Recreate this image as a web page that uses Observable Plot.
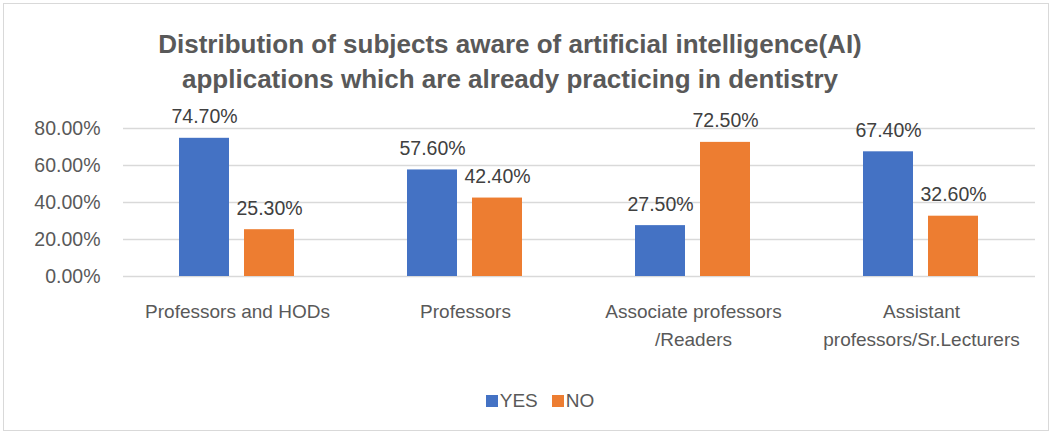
<!DOCTYPE html>
<html>
<head>
<meta charset="utf-8">
<script src="https://cdn.jsdelivr.net/npm/d3@7"></script>
<script src="https://cdn.jsdelivr.net/npm/@observablehq/plot@0.6"></script>
<style>
  html, body { margin: 0; padding: 0; background: #fff; }
  body { width: 1053px; height: 436px; position: relative; overflow: hidden; font-family: "Liberation Sans", Arial, sans-serif; }
  #frame { position: absolute; left: 3px; top: 3px; width: 1046px; height: 428px; border: 1.5px solid #d9d9d9; box-sizing: border-box; }
  #title { position: absolute; left: 0; width: 1020px; top: 27px; text-align: center; font-family: "Liberation Sans", sans-serif; font-weight: bold; font-size: 26px; line-height: 35px; color: #595959; }
  #chart { position: absolute; left: 0; top: 100px; }
  #legend { position: absolute; left: 0; width: 1080px; top: 390px; text-align: center; font-size: 19px; color: #595959; }
  .sw { display: inline-block; width: 12px; height: 12px; margin-right: 2px; vertical-align: 0px; }
  .item { margin: 0 7px; }
</style>
</head>
<body>
<div id="frame"></div>
<div id="title">Distribution of subjects aware of artificial intelligence(AI)<br>applications which are already practicing in dentistry</div>
<div id="chart"></div>
<div id="legend"></div>
<script>
const categories = ["Professors and HODs", "Professors", "Associate professors /Readers", "Assistant professors/Sr.Lecturers"];
const categoryLabels = ["Professors and HODs", "Professors", "Associate professors\n/Readers", "Assistant\nprofessors/Sr.Lecturers"];
const seriesNames = ["YES", "NO"];
const yesValues = [74.7, 57.6, 27.5, 67.4];
const noValues = [25.3, 42.4, 72.5, 32.6];
const yTicks = [0, 20, 40, 60, 80];
const colors = ["#4472C4", "#ED7D31"];

const rows = [];
categories.forEach((c, i) => {
  rows.push({cat: c, series: "YES", value: yesValues[i]});
  rows.push({cat: c, series: "NO", value: noValues[i]});
});
const labelOf = new Map(categories.map((c, i) => [c, categoryLabels[i]]));

const plot = Plot.plot({
  width: 1053,
  height: 256,
  marginLeft: 123,
  marginRight: 18,
  marginTop: 28,
  marginBottom: 80,
  style: { fontFamily: "Liberation Sans, Arial, sans-serif", fontSize: "19px", color: "#595959", background: "transparent" },
  fx: { domain: categories, padding: 0, axis: null, label: null },
  x: { domain: seriesNames, paddingInner: 0.227, paddingOuter: 0.848, axis: null },
  y: { domain: [0, 80], axis: null },
  color: { domain: seriesNames, range: colors },
  marks: [
    Plot.ruleY(yTicks, { stroke: "#d9d9d9", strokeWidth: 1.5 }),
    Plot.axisFx({ anchor: "bottom", tickSize: 0, tickPadding: 22, tickFormat: d => labelOf.get(d), label: null, fontSize: 19, lineHeight: 1.45, fill: "#595959" }),
    Plot.axisY({ ticks: yTicks, tickSize: 0, tickPadding: 23, tickFormat: d => d.toFixed(2) + "%", label: null, fontSize: 19.5, fill: "#595959", facetAnchor: "left" }),
    Plot.barY(rows, { fx: "cat", x: "series", y: "value", fill: "series" }),
    Plot.text(rows, { fx: "cat", x: "series", y: "value", text: d => d.value.toFixed(2) + "%", lineAnchor: "bottom", dy: -15, fontSize: 19.5, fill: "#404040" })
  ]
});
document.getElementById("chart").appendChild(plot);

const legend = document.getElementById("legend");
seriesNames.forEach((s, i) => {
  const span = document.createElement("span");
  span.className = "item";
  span.innerHTML = `<span class="sw" style="background:${colors[i]}"></span>${s}`;
  legend.appendChild(span);
});
</script>
</body>
</html>
